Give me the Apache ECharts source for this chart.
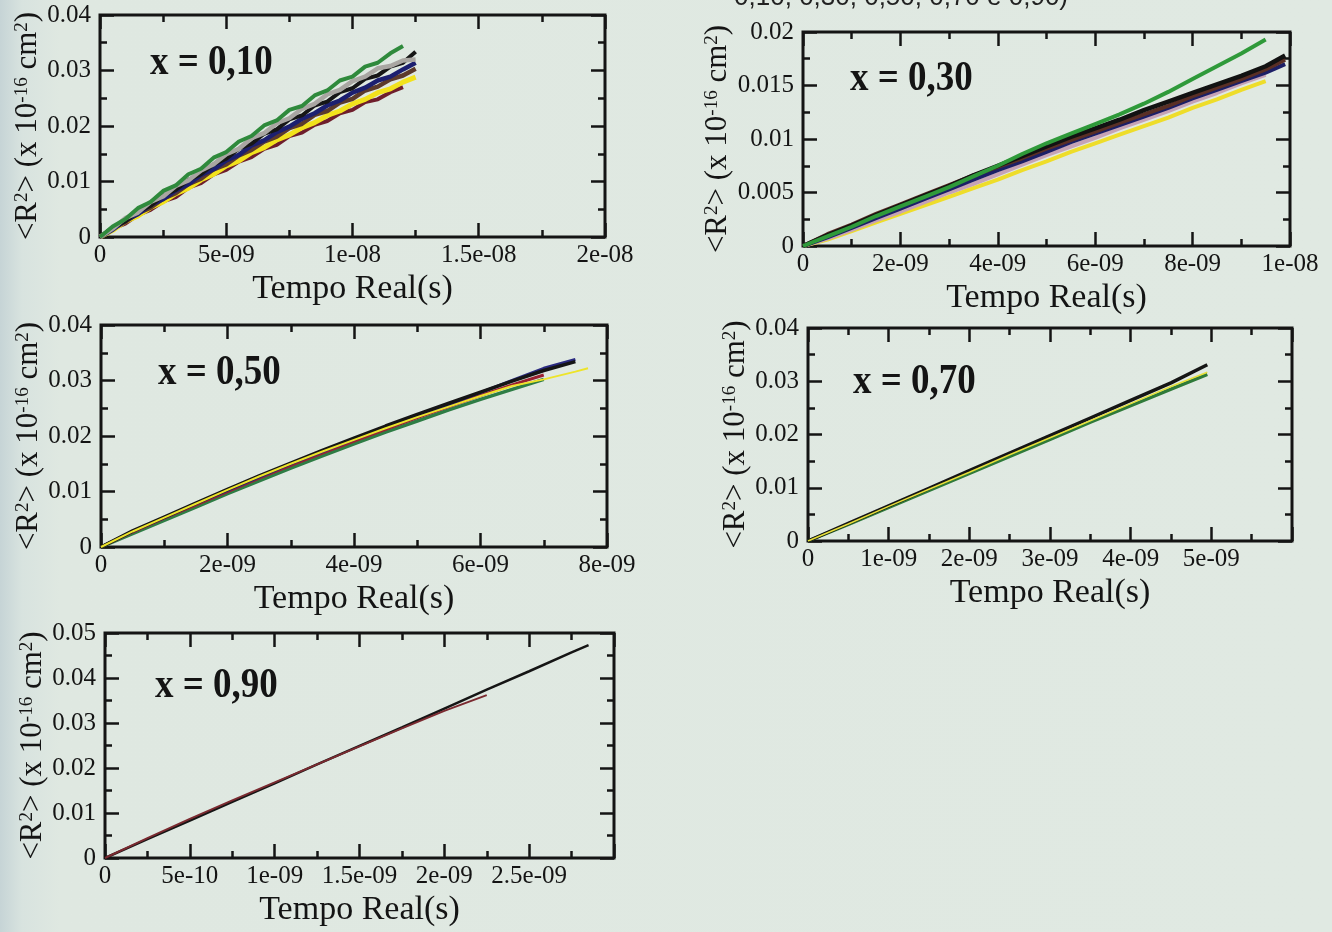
<!DOCTYPE html>
<html>
<head>
<meta charset="utf-8">
<title>Tempo Real x R2</title>
<script src="https://cdn.jsdelivr.net/npm/echarts@6/dist/echarts.min.js"></script>
<style type="text/css">
  html, body {
    margin: 0;
    padding: 0;
    background: linear-gradient(to right, #c6d4d6 0px, #d8e3df 22px, #dfe8e1 60px, #e0e9e2 100%);
  }
  #main {
    width: 1332px;
    height: 932px;
  }
</style>
</head>
<body>
<div id="main"></div>
<script type="text/javascript">
// tempos em ns (convertidos para s ao montar as series)
var t1 = [0, 0.5, 1, 1.5, 2, 2.5, 3, 3.5, 4, 4.5, 5, 5.5, 6, 6.5, 7, 7.5, 8, 8.5, 9, 9.5, 10, 10.5, 11, 11.5, 12, 12.5];
var t2 = [0, 0.5, 1, 1.5, 2, 2.5, 3, 3.5, 4, 4.5, 5, 5.5, 6, 6.5, 7, 7.5, 8, 8.5, 9, 9.5, 9.9];
var t3 = [0, 0.5, 1, 1.5, 2, 2.5, 3, 3.5, 4, 4.5, 5, 5.5, 6, 6.5, 7, 7.5, 7.7];
var t4 = [0, 0.5, 1, 1.5, 2, 2.5, 3, 3.5, 4, 4.5, 4.95];
var t5 = [0, 0.25, 0.5, 0.75, 1, 1.25, 1.5, 1.75, 2, 2.25, 2.5, 2.75, 2.85];

// x = 0,10  (<R2> em 1e-16 cm2)
var p1_green  = [0, 0.0019, 0.0032, 0.0052, 0.0063, 0.0083, 0.0093, 0.0113, 0.0123, 0.0143, 0.0153, 0.0172, 0.0182, 0.0201, 0.0210, 0.0229, 0.0236, 0.0255, 0.0264, 0.0282, 0.0289, 0.0307, 0.0314, 0.0331, 0.0344];
var p1_gray   = [0, 0.0015, 0.0034, 0.0044, 0.0063, 0.0073, 0.0092, 0.0102, 0.0120, 0.0131, 0.0149, 0.0159, 0.0178, 0.0187, 0.0205, 0.0214, 0.0231, 0.0240, 0.0257, 0.0265, 0.0281, 0.0289, 0.0304, 0.0308, 0.0318, 0.0320];
var p1_black  = [0, 0.0017, 0.0028, 0.0046, 0.0056, 0.0075, 0.0085, 0.0103, 0.0113, 0.0131, 0.0141, 0.0159, 0.0168, 0.0186, 0.0194, 0.0212, 0.0219, 0.0237, 0.0244, 0.0261, 0.0268, 0.0285, 0.0291, 0.0307, 0.0314, 0.0334];
var p1_navy   = [0, 0.0013, 0.0030, 0.0041, 0.0058, 0.0068, 0.0084, 0.0095, 0.0112, 0.0122, 0.0138, 0.0148, 0.0165, 0.0174, 0.0189, 0.0199, 0.0213, 0.0223, 0.0237, 0.0246, 0.0260, 0.0269, 0.0282, 0.0289, 0.0302, 0.0314];
var p1_brown  = [0, 0.0016, 0.0027, 0.0043, 0.0053, 0.0069, 0.0079, 0.0095, 0.0105, 0.0122, 0.0131, 0.0147, 0.0157, 0.0172, 0.0181, 0.0196, 0.0204, 0.0220, 0.0227, 0.0242, 0.0249, 0.0264, 0.0271, 0.0284, 0.0291, 0.0303];
var p1_yellow = [0, 0.0012, 0.0028, 0.0038, 0.0053, 0.0063, 0.0078, 0.0088, 0.0103, 0.0113, 0.0128, 0.0137, 0.0152, 0.0161, 0.0175, 0.0184, 0.0197, 0.0206, 0.0219, 0.0227, 0.0240, 0.0248, 0.0260, 0.0267, 0.0279, 0.0288];
var p1_red    = [0, 0.0015, 0.0024, 0.0040, 0.0049, 0.0064, 0.0072, 0.0089, 0.0097, 0.0113, 0.0121, 0.0136, 0.0144, 0.0159, 0.0166, 0.0182, 0.0188, 0.0202, 0.0209, 0.0223, 0.0229, 0.0243, 0.0248, 0.0261, 0.0270];

// x = 0,30
var p2_green  = [0, 0.0009, 0.0018, 0.0028, 0.0037, 0.0046, 0.0055, 0.0065, 0.0075, 0.0086, 0.0096, 0.0105, 0.0114, 0.0123, 0.0133, 0.0144, 0.0156, 0.0168, 0.0180, 0.0193];
var p2_black  = [0, 0.0010, 0.0019, 0.0029, 0.0038, 0.0047, 0.0056, 0.0066, 0.0075, 0.0084, 0.0093, 0.0102, 0.0110, 0.0118, 0.0127, 0.0135, 0.0143, 0.0151, 0.0159, 0.0168, 0.0178];
var p2_brown  = [0, 0.0011, 0.0020, 0.0030, 0.0039, 0.0048, 0.0057, 0.0066, 0.0074, 0.0082, 0.0091, 0.0099, 0.0107, 0.0115, 0.0123, 0.0131, 0.0140, 0.0148, 0.0156, 0.0165, 0.0174];
var p2_navy   = [0, 0.0008, 0.0017, 0.0026, 0.0035, 0.0044, 0.0053, 0.0062, 0.0071, 0.0079, 0.0088, 0.0097, 0.0105, 0.0113, 0.0121, 0.0129, 0.0138, 0.0146, 0.0154, 0.0162, 0.0170];
var p2_pink   = [0, 0.0007, 0.0015, 0.0024, 0.0032, 0.0041, 0.0050, 0.0058, 0.0067, 0.0076, 0.0085, 0.0093, 0.0101, 0.0110, 0.0118, 0.0126, 0.0135, 0.0143, 0.0152, 0.0160];
var p2_yellow = [0, 0.0006, 0.0014, 0.0022, 0.0030, 0.0038, 0.0046, 0.0054, 0.0062, 0.0071, 0.0079, 0.0088, 0.0096, 0.0104, 0.0112, 0.0120, 0.0129, 0.0137, 0.0146, 0.0154];

// x = 0,50
var p3_green  = [0, 0.0024, 0.0048, 0.0072, 0.0096, 0.0119, 0.0142, 0.0164, 0.0186, 0.0207, 0.0227, 0.0247, 0.0266, 0.0284, 0.0302];
var p3_red    = [0, 0.0027, 0.0052, 0.0076, 0.0100, 0.0124, 0.0147, 0.0169, 0.0191, 0.0212, 0.0233, 0.0253, 0.0273, 0.0292, 0.0310];
var p3_navy   = [0, 0.0028, 0.0053, 0.0078, 0.0102, 0.0126, 0.0150, 0.0172, 0.0194, 0.0215, 0.0236, 0.0257, 0.0278, 0.0300, 0.0322, 0.0338];
var p3_black  = [0, 0.0029, 0.0054, 0.0079, 0.0104, 0.0128, 0.0151, 0.0174, 0.0196, 0.0218, 0.0239, 0.0259, 0.0279, 0.0299, 0.0318, 0.0334];
var p3_yellow = [0, 0.0028, 0.0053, 0.0078, 0.0103, 0.0127, 0.0150, 0.0172, 0.0193, 0.0214, 0.0234, 0.0253, 0.0272, 0.0290, 0.0302, 0.0316, 0.0322];

// x = 0,70
var p4_black  = [0, 0.0033, 0.0066, 0.0099, 0.0132, 0.0165, 0.0198, 0.0231, 0.0264, 0.0297, 0.0331];
var p4_green  = [0, 0.0031, 0.0063, 0.0095, 0.0127, 0.0159, 0.0191, 0.0223, 0.0254, 0.0285, 0.0313];
var p4_yellow = [0, 0.0032, 0.0065, 0.0097, 0.0129, 0.0162, 0.0194, 0.0226, 0.0258, 0.0290, 0.0317];

// x = 0,90
var p5_black  = [0, 0.0042, 0.0083, 0.0125, 0.0166, 0.0208, 0.0249, 0.0290, 0.0332, 0.0374, 0.0415, 0.0457, 0.0473];
var p5_red    = [0, 0.0044, 0.0087, 0.0128, 0.0168, 0.0208, 0.0248, 0.0288, 0.0327, 0.0362];

var xTitle = 'Tempo Real(s)';
var yTitle = '<R{s|2}> (x 10{s|-16} cm{s|2})';
var panelLabels = ['x = 0,10', 'x = 0,30', 'x = 0,50', 'x = 0,70', 'x = 0,90'];

var serif = '"Liberation Serif", "DejaVu Serif", serif';
var ink = '#141414';

var myChart = echarts.init(document.getElementById('main'));

function fmtX(v) {
  if (v === 0) return '0';
  var s = parseFloat(v.toPrecision(6)).toExponential();
  var p = s.split('e');
  var ex = parseInt(p[1], 10);
  var a = Math.abs(ex);
  return p[0] + 'e' + (ex < 0 ? '-' : '+') + (a < 10 ? '0' + a : a);
}
function fmtY(v) {
  return String(parseFloat(v.toPrecision(6)));
}

var grids = [
  {left: 100, top: 15, width: 505, height: 222},
  {left: 803, top: 32, width: 487, height: 214},
  {left: 101, top: 325, width: 506, height: 222},
  {left: 808, top: 328, width: 484, height: 213},
  {left: 105, top: 633, width: 509, height: 225}
];
// [xmax, xinterval, ymax, yinterval, mostra ultimo rotulo x]
var scales = [
  [2e-8, 5e-9, 0.04, 0.01, true],
  [1e-8, 2e-9, 0.02, 0.005, true],
  [8e-9, 2e-9, 0.04, 0.01, true],
  [6e-9, 1e-9, 0.04, 0.01, false],
  [3e-9, 5e-10, 0.05, 0.01, false]
];

var tickStyle = {color: ink, width: 2.5};
var xAxis = [], yAxis = [];
for (var g = 0; g < 5; g++) {
  var sc = scales[g];
  var common = {
    gridIndex: g, type: 'value', min: 0,
    splitLine: {show: false},
    axisLine: {show: false, onZero: false},
    axisTick: {inside: true, length: 14, lineStyle: tickStyle},
    minorTick: {show: true, splitNumber: 2, length: 7, lineStyle: tickStyle}
  };
  xAxis.push(echarts.util.merge({
    position: 'bottom', max: sc[0], interval: sc[1],
    name: xTitle, nameLocation: 'middle', nameGap: 35,
    nameTextStyle: {fontFamily: serif, fontSize: 34, color: ink},
    axisLabel: {formatter: fmtX, fontFamily: serif, fontSize: 25, color: ink, margin: 6, showMaxLabel: sc[4]}
  }, common, true));
  xAxis.push(echarts.util.merge({
    position: 'top', max: sc[0], interval: sc[1], axisLabel: {show: false}
  }, common, true));
  yAxis.push(echarts.util.merge({
    position: 'left', max: sc[2], interval: sc[3],
    name: yTitle, nameLocation: 'middle', nameGap: 44,
    nameTextStyle: {
      fontFamily: serif, fontSize: 31, color: ink,
      rich: {s: {fontFamily: serif, fontSize: 19, color: ink, verticalAlign: 'top'}}
    },
    axisLabel: {formatter: fmtY, fontFamily: serif, fontSize: 25, color: ink, margin: 9}
  }, common, true));
  yAxis.push(echarts.util.merge({
    position: 'right', max: sc[2], interval: sc[3], axisLabel: {show: false}
  }, common, true));
}

function pts(t, v) {
  var out = [];
  for (var i = 0; i < v.length; i++) out.push([t[i] * 1e-9, v[i]]);
  return out;
}
function line(g, t, v, color, w) {
  return {
    type: 'line', xAxisIndex: g * 2, yAxisIndex: g * 2,
    data: pts(t, v), showSymbol: false, silent: true,
    lineStyle: {color: color, width: w}
  };
}

var series = [
  line(0, t1, p1_red, '#6e1e2c', 4),
  line(0, t1, p1_yellow, '#f2e21c', 5),
  line(0, t1, p1_brown, '#5c3a2c', 4.5),
  line(0, t1, p1_navy, '#1c1f70', 4.5),
  line(0, t1, p1_black, '#161616', 4),
  line(0, t1, p1_gray, '#a9a6a2', 4.5),
  line(0, t1, p1_green, '#2f8a3c', 4),

  line(1, t2, p2_yellow, '#eedd2a', 4),
  line(1, t2, p2_pink, '#c6a3b6', 4),
  line(1, t2, p2_navy, '#1c1f66', 4),
  line(1, t2, p2_brown, '#5a2f25', 4),
  line(1, t2, p2_black, '#121212', 4.5),
  line(1, t2, p2_green, '#2f9a3a', 4),

  line(2, t3, p3_green, '#2e7d45', 3.5),
  line(2, t3, p3_red, '#9a2030', 3),
  line(2, t3, p3_navy, '#2a2a80', 3),
  line(2, t3, p3_black, '#151515', 3.5),
  line(2, t3, p3_yellow, '#ede42a', 2),

  line(3, t4, p4_green, '#2f7a3a', 3.5),
  line(3, t4, p4_black, '#151515', 3.5),
  line(3, t4, p4_yellow, '#e6e03a', 1.6),

  line(4, t5, p5_black, '#151515', 2.5),
  line(4, t5, p5_red, '#7a2a30', 2)
];

var graphic = [{
  type: 'text', right: 1332 - 1068, top: -15,
  style: {text: '0,10, 0,30, 0,50, 0,70 e 0,90)', font: '26px "Liberation Sans", sans-serif', fill: '#222'}
}];
var labelPos = [[150, 42], [850, 58], [158, 352], [853, 361], [155, 665]];
for (var k = 0; k < 5; k++) {
  graphic.push({
    type: 'text', x: labelPos[k][0], y: labelPos[k][1], scaleY: 1.15,
    style: {text: panelLabels[k], font: 'bold 37px ' + serif, fill: ink}
  });
}

var option = {
  animation: false,
  backgroundColor: 'transparent',
  grid: grids.map(function (gr) {
    return {left: gr.left, top: gr.top, width: gr.width, height: gr.height,
      show: true, borderColor: ink, borderWidth: 3, backgroundColor: 'transparent'};
  }),
  xAxis: xAxis,
  yAxis: yAxis,
  series: series,
  graphic: graphic
};
myChart.setOption(option);
</script>
</body>
</html>
